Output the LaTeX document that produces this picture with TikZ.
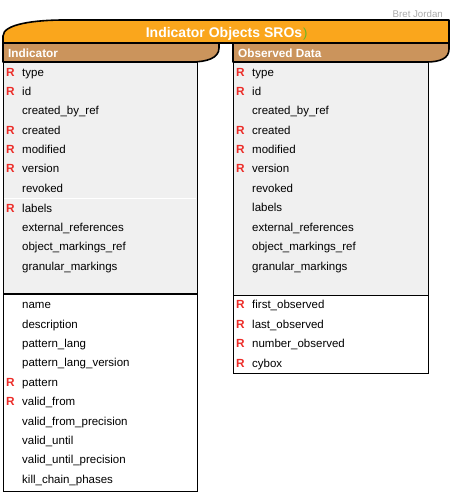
\documentclass[tikz,border=0pt]{standalone}
\usepackage{fontspec}
\setmainfont{Liberation Sans}
\definecolor{bannerorange}{RGB}{250,166,28}
\definecolor{headtan}{RGB}{203,148,92}
\definecolor{boxgray}{RGB}{240,240,240}
\definecolor{reqred}{RGB}{236,44,40}
\definecolor{cursorgreen}{RGB}{100,185,40}
\definecolor{authorgray}{RGB}{170,170,170}
\begin{document}
\begin{tikzpicture}[x=1pt,y=-1pt]
				\tikzstyle{field}=[anchor=mid west,inner sep=0,yshift=-1.5pt,font=\fontsize{11.5}{14}\selectfont]
				\tikzstyle{req}=[anchor=mid west,inner sep=0,yshift=-1.5pt,text=reqred,font=\fontsize{11.8}{14}\selectfont\bfseries]
				\tikzset{
					head text/.style={anchor=base west,inner sep=0,text=white,font=\fontsize{11.8}{14}\selectfont\bfseries},
					thick border/.style={draw=black,line width=1.6pt,line join=round},
					thin border/.style={draw=black,line width=0.9pt}
				}
				\useasboundingbox (0,0) rectangle (452,493);
				% banner and headers
				\path[thick border,fill=bannerorange] (3,43) -- (3,36) .. controls (3,24) and (35,20) .. (64,20) -- (449,20) -- (449,43) -- cycle;
				\path[thick border,fill=headtan] (3,43) -- (219,43) -- (219,48) .. controls (219,58) and (207,62) .. (191,62) -- (3,62) -- cycle;
				\path[thick border,fill=headtan] (233,43) -- (449,43) -- (449,49) .. controls (449,58) and (441,62) .. (426,62) -- (233,62) -- cycle;
				\node(title)[anchor=base,inner sep=0,text=white,font=\fontsize{14}{16}\selectfont\bfseries] at (224,37) {Indicator Objects SROs};
				\node(cursor)[anchor=base west,inner sep=0,xshift=0.5pt,text=cursorgreen,font=\fontsize{13}{14}\selectfont] at (title.base east) {)};
				\node(author)[anchor=base east,inner sep=0,text=authorgray,font=\fontsize{9.7}{12}\selectfont] at (443,17) {Bret Jordan};
				\node(indicator)[head text] at (8,57) {Indicator};
				\node(observed)[head text] at (238,57) {Observed Data};
				% boxes
				\fill[boxgray] (3,62) rectangle (197,294);
				\fill[boxgray] (233,62) rectangle (428,295);
				\draw[white,line width=0.8pt] (4,198) -- (196,198);
				\draw[line width=1.8pt] (3,294) -- (197,294);
				\draw[line width=0.9pt] (233,295) -- (428,295);
				\path[thin border] (3,62) rectangle (197,491);
				\path[thin border] (233,62) rectangle (428,373);
				% indicator fields
				\node(i-type)[field] at (22,72) {type};
				\node(i-id)[field] at (22,91) {id};
				\node(i-created-by-ref)[field] at (22,110) {created\_by\_ref};
				\node(i-created)[field] at (22,130) {created};
				\node(i-modified)[field] at (22,149) {modified};
				\node(i-version)[field] at (22,168) {version};
				\node(i-revoked)[field] at (22,188) {revoked};
				\node(i-labels)[field] at (22,208) {labels};
				\node(i-external-references)[field] at (22,227) {external\_references};
				\node(i-object-markings-ref)[field] at (22,246) {object\_markings\_ref};
				\node(i-granular-markings)[field] at (22,266) {granular\_markings};
				\node(i-name)[field] at (22,304) {name};
				\node(i-description)[field] at (22,324) {description};
				\node(i-pattern-lang)[field] at (22,343) {pattern\_lang};
				\node(i-pattern-lang-version)[field] at (22,362) {pattern\_lang\_version};
				\node(i-pattern)[field] at (22,382) {pattern};
				\node(i-valid-from)[field] at (22,401) {valid\_from};
				\node(i-valid-from-precision)[field] at (22,421) {valid\_from\_precision};
				\node(i-valid-until)[field] at (22,440) {valid\_until};
				\node(i-valid-until-precision)[field] at (22,459) {valid\_until\_precision};
				\node(i-kill-chain-phases)[field] at (22,479) {kill\_chain\_phases};
				\node(i-type-R)[req] at (6,72) {R};
				\node(i-id-R)[req] at (6,91) {R};
				\node(i-created-R)[req] at (6,130) {R};
				\node(i-modified-R)[req] at (6,149) {R};
				\node(i-version-R)[req] at (6,168) {R};
				\node(i-labels-R)[req] at (6,208) {R};
				\node(i-pattern-R)[req] at (6,382) {R};
				\node(i-valid-from-R)[req] at (6,401) {R};
				% observed data fields
				\node(o-type)[field] at (252,72) {type};
				\node(o-id)[field] at (252,91) {id};
				\node(o-created-by-ref)[field] at (252,110) {created\_by\_ref};
				\node(o-created)[field] at (252,130) {created};
				\node(o-modified)[field] at (252,149) {modified};
				\node(o-version)[field] at (252,168) {version};
				\node(o-revoked)[field] at (252,188) {revoked};
				\node(o-labels)[field] at (252,207) {labels};
				\node(o-external-references)[field] at (252,227) {external\_references};
				\node(o-object-markings-ref)[field] at (252,246) {object\_markings\_ref};
				\node(o-granular-markings)[field] at (252,266) {granular\_markings};
				\node(o-first-observed)[field] at (252,304) {first\_observed};
				\node(o-last-observed)[field] at (252,324) {last\_observed};
				\node(o-number-observed)[field] at (252,343) {number\_observed};
				\node(o-cybox)[field] at (252,363) {cybox};
				\node(o-type-R)[req] at (236,72) {R};
				\node(o-id-R)[req] at (236,91) {R};
				\node(o-created-R)[req] at (236,130) {R};
				\node(o-modified-R)[req] at (236,149) {R};
				\node(o-version-R)[req] at (236,168) {R};
				\node(o-first-observed-R)[req] at (236,304) {R};
				\node(o-last-observed-R)[req] at (236,324) {R};
				\node(o-number-observed-R)[req] at (236,343) {R};
				\node(o-cybox-R)[req] at (236,363) {R};
			\end{tikzpicture}
\end{document}
